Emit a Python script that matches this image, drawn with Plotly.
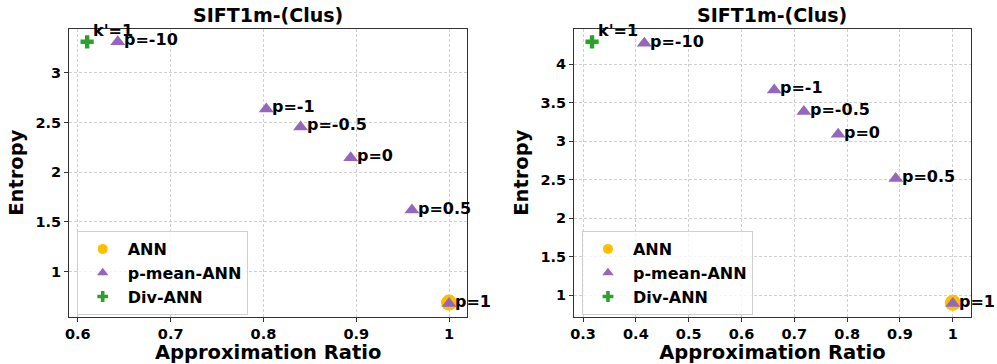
import plotly.graph_objects as go

# ---- data -------------------------------------------------------------
title = "SIFT1m-(Clus)"
p_labels = ["p=-10", "p=-1", "p=-0.5", "p=0", "p=0.5", "p=1"]

# left panel
l_ann_x, l_ann_y = [1.0], [0.69]
l_pm_x = [0.643, 0.803, 0.840, 0.894, 0.960, 1.0]
l_pm_y = [3.31, 2.635, 2.455, 2.145, 1.62, 0.68]
l_div_x, l_div_y = [0.61], [3.31]
l_xticks = [0.6, 0.7, 0.8, 0.9, 1.0]
l_xtext = ["0.6", "0.7", "0.8", "0.9", "1"]
l_yticks = [1, 1.5, 2, 2.5, 3]
l_ytext = ["1", "1.5", "2", "2.5", "3"]

# right panel
r_ann_x, r_ann_y = [1.0], [0.90]
r_pm_x = [0.416, 0.662, 0.718, 0.783, 0.892, 1.0]
r_pm_y = [4.27, 3.665, 3.385, 3.09, 2.515, 0.89]
r_div_x, r_div_y = [0.317], [4.29]
r_xticks = [0.3, 0.4, 0.5, 0.6, 0.7, 0.8, 0.9, 1.0]
r_xtext = ["0.3", "0.4", "0.5", "0.6", "0.7", "0.8", "0.9", "1"]
r_yticks = [1, 1.5, 2, 2.5, 3, 3.5, 4]
r_ytext = ["1", "1.5", "2", "2.5", "3", "3.5", "4"]

div_label = "k'=1"

GOLD = "#ffbf00"
PURPLE = "#9467bd"
GREEN = "#2ca02c"
FONT = "DejaVu Sans"

W, H = 997, 364

fig = go.Figure()

series = [
    ("ANN", "circle", 16, 10, GOLD),
    ("p-mean-ANN", "triangle-up", 13, 10, PURPLE),
    ("Div-ANN", "cross", 11, 9, GREEN),
]


def add_panel(ax, ann_x, ann_y, pm_x, pm_y, div_x, div_y, legend):
    xa = "x" if ax == 1 else f"x{ax}"
    ya = "y" if ax == 1 else f"y{ax}"
    data = [(ann_x, ann_y), (pm_x, pm_y), (div_x, div_y)]
    for (name, sym, size, lsize, col), (xs, ys) in zip(series, data):
        fig.add_trace(go.Scatter(
            x=xs, y=ys, mode="markers", name=name, xaxis=xa, yaxis=ya,
            marker=dict(symbol=sym, size=size, color=col), showlegend=False))
    # legend entries with smaller key symbols
    for name, sym, size, lsize, col in series:
        fig.add_trace(go.Scatter(
            x=[None], y=[None], mode="markers", name=name, xaxis=xa, yaxis=ya,
            marker=dict(symbol=sym, size=lsize, color=col), legend=legend))
    for x, y, t in zip(pm_x, pm_y, p_labels):
        fig.add_annotation(x=x, y=y, xref=xa, yref=ya, text=t, showarrow=False,
                           xanchor="left", yanchor="middle", xshift=4, yshift=2,
                           font=dict(family=FONT, size=16, color="black", weight="bold"))
    fig.add_annotation(x=div_x[0], y=div_y[0], xref=xa, yref=ya, text=div_label,
                       showarrow=False, xanchor="left", yanchor="middle",
                       xshift=4, yshift=11,
                       font=dict(family=FONT, size=16, color="black", weight="bold"))


add_panel(1, l_ann_x, l_ann_y, l_pm_x, l_pm_y, l_div_x, l_div_y, "legend")
add_panel(2, r_ann_x, r_ann_y, r_pm_x, r_pm_y, r_div_x, r_div_y, "legend2")

tickfont = dict(family=FONT, size=14.5, color="black", weight="bold")
labfont = dict(family=FONT, size=19.5, color="black", weight="bold")


def axis_common(**kw):
    d = dict(showline=True, mirror=True, linecolor="#333333", linewidth=1,
             showgrid=True, gridcolor="#d0d0d0", griddash="3px,2px", gridwidth=0.8,
             ticks="outside", ticklen=4, tickcolor="#333333",
             tickfont=tickfont, zeroline=False)
    d.update(kw)
    return d


def span(lo, hi):
    m = (hi - lo) * 0.05
    return [lo - m, hi + m]


l_xr = span(min(l_div_x + l_pm_x), max(l_pm_x + l_ann_x))
l_yr = span(min(l_pm_y + l_ann_y), max(l_pm_y + l_div_y))
r_xr = span(min(r_div_x + r_pm_x), max(r_pm_x + r_ann_x))
r_yr = span(min(r_pm_y + r_ann_y), max(r_pm_y + r_div_y))

ydom = [(H - 316.7) / H, (H - 28.7) / H]

legfont = dict(family=FONT, size=16, color="black", weight="bold")

fig.update_layout(
    width=W, height=H,
    margin=dict(l=0, r=0, t=0, b=0),
    paper_bgcolor="white", plot_bgcolor="white",
    font=dict(family=FONT, color="black"),
    xaxis=axis_common(domain=[65.3 / W, 465 / W], range=l_xr,
                      tickvals=l_xticks, ticktext=l_xtext, anchor="y",
                      title=dict(text="Approximation Ratio", font=labfont, standoff=1)),
    yaxis=axis_common(domain=ydom, range=l_yr, tickvals=l_yticks, ticktext=l_ytext,
                      anchor="x",
                      title=dict(text="Entropy", font=labfont, standoff=6)),
    xaxis2=axis_common(domain=[572.3 / W, 970.7 / W], range=r_xr,
                       tickvals=r_xticks, ticktext=r_xtext, anchor="y2",
                       title=dict(text="Approximation Ratio", font=labfont, standoff=1)),
    yaxis2=axis_common(domain=ydom, range=r_yr, tickvals=r_yticks, ticktext=r_ytext,
                       anchor="x2",
                       title=dict(text="Entropy", font=labfont, standoff=6)),
    legend=dict(x=73 / W, y=(H - 231) / H, xanchor="left", yanchor="top",
                bgcolor="rgba(255,255,255,0.8)", bordercolor="#d0d0d0", borderwidth=1,
                font=legfont, itemsizing="trace", itemwidth=40),
    legend2=dict(x=580.3 / W, y=(H - 231) / H, xanchor="left", yanchor="top",
                 bgcolor="rgba(255,255,255,0.8)", bordercolor="#d0d0d0", borderwidth=1,
                 font=legfont, itemsizing="trace", itemwidth=40),
)

# panel titles
for cx in [(65.3 + 465) / 2 / W, (572.3 + 970.7) / 2 / W]:
    fig.add_annotation(x=cx, y=(H - 15) / H, xref="paper", yref="paper",
                       text=title, showarrow=False, xanchor="center", yanchor="middle",
                       font=dict(family=FONT, size=19, color="black", weight="bold"))

fig.write_html("out.html")
